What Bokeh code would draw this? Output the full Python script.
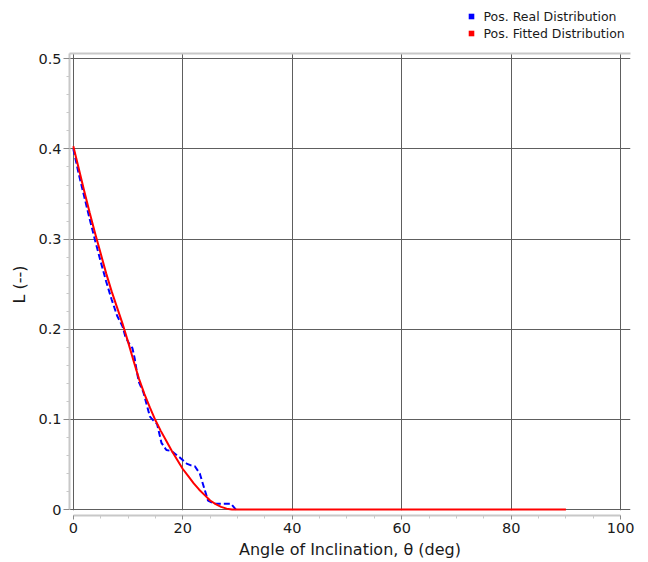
from bokeh.plotting import figure
from bokeh.layouts import column
from bokeh.models import (FixedTicker, LinearAxis, Legend, LegendItem,
                          BoxAnnotation)
from bokeh.embed import file_html
from bokeh.resources import INLINE

# ---- data ----
fit_theta = [0, 1, 2, 3, 4, 5, 6, 7, 8, 9, 10, 11, 12, 13, 14, 15, 16, 17,
             18, 19, 20, 21, 22, 23, 24, 25, 26, 27, 28, 29, 30, 90]
fit_L = [0.403, 0.378, 0.353, 0.329, 0.306, 0.284, 0.262, 0.242, 0.224,
         0.206, 0.186, 0.165, 0.145, 0.128, 0.113, 0.099, 0.087, 0.076,
         0.065, 0.055, 0.045, 0.037, 0.029, 0.022, 0.016, 0.010, 0.006,
         0.003, 0.001, 0.0, 0.0, 0.0]

real_theta = [0, 1, 2, 3, 4, 5, 6, 7, 8, 9, 9.5, 10.2, 10.8, 11.2, 11.6,
              12.0, 12.8, 14.0, 14.6, 15.3, 16.1, 17.0, 17.9, 19.4, 20.7,
              21.5, 22.2, 23.1, 24.6, 25.8, 28.8, 29.7]
real_L = [0.400, 0.372, 0.347, 0.322, 0.298, 0.275, 0.253, 0.233, 0.215,
          0.203, 0.192, 0.184, 0.179, 0.168, 0.153, 0.141, 0.130, 0.103,
          0.099, 0.095, 0.074, 0.066, 0.065, 0.058, 0.051, 0.049, 0.048,
          0.040, 0.010, 0.0065, 0.0065, 0.0]

x_ticks = [0, 20, 40, 60, 80, 100]
x_tick_labels = ["0", "20", "40", "60", "80", "100"]
x_minor = [5, 10, 15, 25, 30, 35, 45, 50, 55, 65, 70, 75, 85, 90, 95]
y_ticks = [0, 0.1, 0.2, 0.3, 0.4, 0.5]
y_tick_labels = ["0", "0.1", "0.2", "0.3", "0.4", "0.5"]
y_minor = [0.02, 0.04, 0.06, 0.08, 0.12, 0.14, 0.16, 0.18, 0.22, 0.24,
           0.26, 0.28, 0.32, 0.34, 0.36, 0.38, 0.42, 0.44, 0.46, 0.48]

series_names = ["Pos. Real Distribution", "Pos. Fitted Distribution"]
series_colors = ["#0000ff", "#ff0000"]

FONT = "DejaVu Sans"
TXT = "#1a1a1a"
GRID = "#5e5e5e"
LIGHT = "#c8c8c8"

X_END = 101.8
Y_END = 0.5059

# ---------------- legend strip (top) ----------------
lg = figure(width=648, height=50, x_range=(0, 1), y_range=(0, 1),
            x_axis_type=None, y_axis_type=None, min_border=0,
            output_backend="svg", toolbar_location=None,
            background_fill_color="white", border_fill_color="white")
lg.outline_line_color = None
lg.xgrid.visible = False
lg.ygrid.visible = False

items = []
for i, (name, col) in enumerate(zip(series_names, series_colors)):
    # legend proxy: the first point of each series, outside this strip's view
    xs = [real_theta, fit_theta][i][:1]
    ys = [real_L, fit_L][i][:1]
    r = lg.scatter(xs, ys, marker="square", fill_color=col, line_color=None,
                   size=6)
    items.append(LegendItem(label=name, renderers=[r]))

leg = Legend(items=items, location=(394.5, 9.4),
             label_text_font=FONT, label_text_font_size="12.5px",
             label_text_color=TXT, glyph_width=14, glyph_height=14,
             label_height=13, label_standoff=6, spacing=2, padding=0,
             margin=0, border_line_color=None, background_fill_alpha=0)
lg.add_layout(leg, "center")
lg.x_range.start = 1
lg.x_range.end = 2

# ---------------- main plot ----------------
p = figure(frame_width=561, frame_height=462,
           x_range=(-0.7, X_END), y_range=(-0.0066, Y_END),
           output_backend="svg", toolbar_location=None,
           min_border_left=69, min_border_top=3,
           min_border_right=18, min_border_bottom=47,
           background_fill_color="white", border_fill_color="white")
p.outline_line_color = None

xa = p.xaxis[0]
xa.ticker = FixedTicker(ticks=x_ticks, minor_ticks=x_minor)
xa.major_label_overrides = dict(zip(x_ticks, x_tick_labels))
xa.bounds = (0, 100)
xa.axis_label = "Angle of Inclination, θ (deg)"

ya = p.yaxis[0]
ya.ticker = FixedTicker(ticks=y_ticks, minor_ticks=y_minor)
ya.major_label_overrides = dict(zip(y_ticks, y_tick_labels))
ya.bounds = (0, Y_END)
ya.axis_label = "L (--)"

for ax in (xa, ya):
    ax.axis_line_color = LIGHT
    ax.axis_line_width = 2
    ax.major_tick_line_color = "#8a8a8a"
    ax.minor_tick_line_color = LIGHT
    ax.major_tick_in = 0
    ax.minor_tick_in = 0
    ax.major_label_text_font = FONT
    ax.major_label_text_font_size = "14.5px"
    ax.major_label_text_color = TXT
    ax.axis_label_text_font = FONT
    ax.axis_label_text_font_size = "16px"
    ax.axis_label_text_font_style = "normal"
    ax.axis_label_text_color = TXT

xa.major_tick_out = 4
xa.minor_tick_out = 3
xa.major_label_standoff = 3
xa.axis_label_standoff = 4
ya.major_tick_out = 6
ya.minor_tick_out = 3
ya.major_label_standoff = 2
ya.axis_label_standoff = 6

# light top border line (axis without ticks)
top = LinearAxis(ticker=FixedTicker(ticks=[]), axis_line_color=LIGHT,
                 axis_line_width=2, major_tick_line_color=None,
                 minor_tick_line_color=None, major_tick_out=0,
                 minor_tick_out=0, major_tick_in=0, minor_tick_in=0,
                 major_label_standoff=0)
p.add_layout(top, "above")

p.xgrid.ticker = FixedTicker(ticks=x_ticks)
p.ygrid.ticker = FixedTicker(ticks=y_ticks)
for g in (p.xgrid[0], p.ygrid[0]):
    g.grid_line_color = GRID
    g.grid_line_width = 1
    g.grid_line_alpha = 1

# hide grid below y = 0
p.add_layout(BoxAnnotation(top=-0.0009, fill_color="white", fill_alpha=1,
                           line_color=None, level="underlay"))

p.line(real_theta, real_L, line_color=series_colors[0], line_width=2,
       line_dash="6 3")
p.line(fit_theta, fit_L, line_color=series_colors[1], line_width=2)

layout = column(lg, p, spacing=0)
open("out.html", "w").write(file_html(layout, INLINE))
